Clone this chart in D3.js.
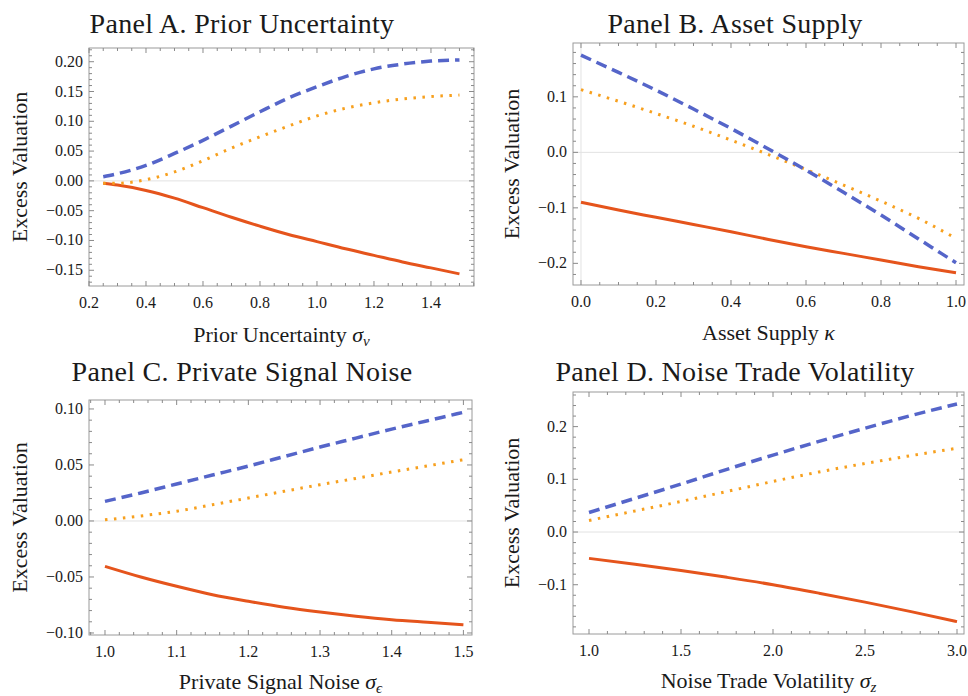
<!DOCTYPE html>
<html>
<head>
<meta charset="UTF-8">
<title></title>
<script src="https://cdn.jsdelivr.net/npm/d3@7/dist/d3.min.js"></script>
<style>
	body { margin: 0; background: #fff; }
	svg text { font-family: "Liberation Serif", "DejaVu Serif", serif; fill: #1a1a1a; }
</style>
</head>
<body>
<script>

	// Panel A. Prior Uncertainty
	var xA = [0.25, 0.3, 0.4, 0.5, 0.6, 0.7, 0.8, 0.9, 1.0, 1.1, 1.2, 1.3, 1.4, 1.5];
	var dashA = [0.007, 0.012, 0.026, 0.046, 0.068, 0.092, 0.116, 0.139, 0.158, 0.175, 0.188, 0.196, 0.201, 0.203];
	var dotA = [-0.004, -0.004, 0.002, 0.015, 0.034, 0.055, 0.074, 0.092, 0.109, 0.122, 0.131, 0.1375, 0.1415, 0.144];
	var solidA = [-0.004, -0.007, -0.016, -0.029, -0.045, -0.061, -0.076, -0.090, -0.102, -0.114, -0.125, -0.136, -0.146, -0.156];

	// Panel B. Asset Supply
	var xB = [0, 0.1, 0.2, 0.3, 0.4, 0.5, 0.6, 0.7, 0.8, 0.9, 1.0];
	var dashB = [0.175, 0.144, 0.112, 0.078, 0.043, 0.006, -0.032, -0.072, -0.113, -0.156, -0.199];
	var dotB = [0.113, 0.092, 0.070, 0.047, 0.022, -0.004, -0.031, -0.059, -0.088, -0.119, -0.155];
	var solidB = [-0.090, -0.104, -0.117, -0.130, -0.143, -0.157, -0.170, -0.182, -0.194, -0.206, -0.217];

	// Panel C. Private Signal Noise
	var xC = [1.0, 1.05, 1.1, 1.15, 1.2, 1.25, 1.3, 1.35, 1.4, 1.45, 1.5];
	var dashC = [0.0175, 0.025, 0.033, 0.041, 0.049, 0.0575, 0.066, 0.074, 0.082, 0.0895, 0.097];
	var dotC = [0.001, 0.0045, 0.0087, 0.0145, 0.0205, 0.0265, 0.0324, 0.038, 0.0437, 0.0492, 0.0547];
	var solidC = [-0.0405, -0.050, -0.0583, -0.0658, -0.0717, -0.077, -0.0813, -0.085, -0.0881, -0.0904, -0.0926];

	// Panel D. Noise Trade Volatility
	var xD = [1.0, 1.25, 1.5, 1.75, 2.0, 2.25, 2.5, 2.75, 3.0];
	var dashD = [0.037, 0.064, 0.091, 0.119, 0.146, 0.172, 0.197, 0.221, 0.243];
	var dotD = [0.022, 0.040, 0.058, 0.077, 0.096, 0.114, 0.130, 0.145, 0.159];
	var solidD = [-0.050, -0.061, -0.073, -0.086, -0.100, -0.116, -0.133, -0.151, -0.170];

	// tick labels
	var xTicksA = [0.2, 0.4, 0.6, 0.8, 1.0, 1.2, 1.4];
	var yTicksA = [-0.15, -0.10, -0.05, 0.00, 0.05, 0.10, 0.15, 0.20];
	var xTicksB = [0.0, 0.2, 0.4, 0.6, 0.8, 1.0];
	var yTicksB = [-0.2, -0.1, 0.0, 0.1];
	var xTicksC = [1.0, 1.1, 1.2, 1.3, 1.4, 1.5];
	var yTicksC = [-0.10, -0.05, 0.00, 0.05, 0.10];
	var xTicksD = [1.0, 1.5, 2.0, 2.5, 3.0];
	var yTicksD = [-0.1, 0.0, 0.1, 0.2];

	var titles = ["Panel A. Prior Uncertainty", "Panel B. Asset Supply", "Panel C. Private Signal Noise", "Panel D. Noise Trade Volatility"];
	var xNames = [["Prior Uncertainty ", "\u03C3", "v"], ["Asset Supply ", "\u03BA", ""], ["Private Signal Noise ", "\u03C3", "\u03F5"], ["Noise Trade Volatility ", "\u03C3", "z"]];
	var yName = "Excess Valuation";

	var colors = { dash: "#5565c9", dot: "#f7a01e", solid: "#e5541c" };
	var serif = "'Liberation Serif', 'DejaVu Serif', serif";

	var panels = [
		{ x: xA, dash: dashA, dot: dotA, solid: solidA, xt: xTicksA, yt: yTicksA, xd: [0.2, 1.551], yd: [-0.1764, 0.223],
			left: 89, right: 474, top: 48, bottom: 286, xminor: 0.05, yminor: 0.01, xdec: 1, ydec: 2,
			tx: 242, ty: 33, ylx: 27, xly: 342, vline: false },
		{ x: xB, dash: dashB, dot: dotB, solid: solidB, xt: xTicksB, yt: yTicksB, xd: [-0.0213, 1.0213], yd: [-0.239, 0.197],
			left: 573, right: 964, top: 43, bottom: 285, xminor: 0.05, yminor: 0.02, xdec: 1, ydec: 1,
			tx: 735, ty: 33, ylx: 519, xly: 340, vline: true },
		{ x: xC, dash: dashC, dot: dotC, solid: solidC, xt: xTicksC, yt: yTicksC, xd: [0.9777, 1.512], yd: [-0.1018, 0.108],
			left: 89, right: 472, top: 400, bottom: 635, xminor: 0.02, yminor: 0.01, xdec: 1, ydec: 2,
			tx: 242, ty: 381, ylx: 27, xly: 689, vline: false },
		{ x: xD, dash: dashD, dot: dotD, solid: solidD, xt: xTicksD, yt: yTicksD, xd: [0.913, 3.038], yd: [-0.1935, 0.2657],
			left: 573, right: 964, top: 392, bottom: 634, xminor: 0.1, yminor: 0.02, xdec: 1, ydec: 1,
			tx: 735, ty: 381, ylx: 519, xly: 688, vline: false }
	];

	var svg = d3.select("body").append("svg").attr("width", 968).attr("height", 696)
		.attr("font-family", serif);

	function fmt(v, dec) {
		var s = Math.abs(v).toFixed(dec);
		return (v < -1e-9 ? "\u2212" : "") + s;
	}

	function minorTicks(domain, step) {
		var out = [];
		var start = Math.ceil(domain[0] / step - 1e-6);
		for (var k = start; k * step <= domain[1] + 1e-9; k++) out.push(k * step);
		return out;
	}

	function drawPanel(p, i) {
		var g = svg.append("g");
		var x = d3.scaleLinear().domain(p.xd).range([p.left, p.right]);
		var y = d3.scaleLinear().domain(p.yd).range([p.bottom, p.top]);

		// zero reference lines
		g.append("line").attr("x1", p.left).attr("x2", p.right).attr("y1", y(0)).attr("y2", y(0))
			.style("stroke", "#e2e2e2").style("stroke-width", 1);
		if (p.vline) {
			g.append("line").attr("x1", x(0)).attr("x2", x(0)).attr("y1", p.top).attr("y2", p.bottom)
				.style("stroke", "#e2e2e2").style("stroke-width", 1);
		}

		// frame
		g.append("rect").attr("x", p.left).attr("y", p.top)
			.attr("width", p.right - p.left).attr("height", p.bottom - p.top)
			.style("fill", "none").style("stroke", "#9a9a9a").style("stroke-width", 1);

		// frame ticks, inward on all four sides
		var tickCol = "#8a8a8a";
		minorTicks(p.xd, p.xminor).forEach(function (v) {
			var len = p.xt.some(function (t) { return Math.abs(t - v) < 1e-6; }) ? 5 : 3;
			var px = x(v);
			g.append("line").attr("x1", px).attr("x2", px).attr("y1", p.bottom).attr("y2", p.bottom - len).style("stroke", tickCol);
			g.append("line").attr("x1", px).attr("x2", px).attr("y1", p.top).attr("y2", p.top + len).style("stroke", tickCol);
		});
		minorTicks(p.yd, p.yminor).forEach(function (v) {
			var len = p.yt.some(function (t) { return Math.abs(t - v) < 1e-6; }) ? 5 : 3;
			var py = y(v);
			g.append("line").attr("x1", p.left).attr("x2", p.left + len).attr("y1", py).attr("y2", py).style("stroke", tickCol);
			g.append("line").attr("x1", p.right).attr("x2", p.right - len).attr("y1", py).attr("y2", py).style("stroke", tickCol);
		});

		// tick labels
		g.selectAll(".xl").data(p.xt).enter().append("text")
			.attr("x", function (d) { return x(d); })
			.attr("y", p.bottom + 22)
			.attr("text-anchor", "middle")
			.style("font-size", "16px")
			.text(function (d) { return fmt(d, p.xdec); });
		g.selectAll(".yl").data(p.yt).enter().append("text")
			.attr("x", p.left - 6)
			.attr("y", function (d) { return y(d) + 5; })
			.attr("text-anchor", "end")
			.style("font-size", "16px")
			.text(function (d) { return fmt(d, p.ydec); });

		// curves
		var line = d3.line().curve(d3.curveMonotoneX);
		function pts(vals) { return p.x.map(function (d, k) { return [x(d), y(vals[k])]; }); }

		g.append("path").attr("d", line(pts(p.solid)))
			.style("fill", "none").style("stroke", colors.solid).style("stroke-width", 3);
		g.append("path").attr("d", line(pts(p.dot)))
			.style("fill", "none").style("stroke", colors.dot).style("stroke-width", 3)
			.style("stroke-dasharray", "2.5,6.5");
		g.append("path").attr("d", line(pts(p.dash)))
			.style("fill", "none").style("stroke", colors.dash).style("stroke-width", 3.5)
			.style("stroke-dasharray", "11,6");

		// title
		g.append("text").attr("x", p.tx).attr("y", p.ty).attr("text-anchor", "middle")
			.style("font-size", "28px").style("letter-spacing", "0.3px")
			.text(titles[i]);

		// y axis label
		g.append("text")
			.attr("transform", "translate(" + p.ylx + "," + ((p.top + p.bottom) / 2) + ") rotate(-90)")
			.attr("text-anchor", "middle")
			.style("font-size", "22px")
			.text(yName);

		// x axis label
		var xl = g.append("text").attr("x", (p.left + p.right) / 2).attr("y", p.xly)
			.attr("text-anchor", "middle").style("font-size", "22px");
		xl.append("tspan").text(xNames[i][0]);
		xl.append("tspan").style("font-style", "italic").text(xNames[i][1]);
		if (xNames[i][2]) {
			xl.append("tspan").style("font-style", "italic").style("font-size", "15px")
				.attr("dy", 4).text(xNames[i][2]);
		}
	}

	panels.forEach(drawPanel);

</script>
</body>
</html>
